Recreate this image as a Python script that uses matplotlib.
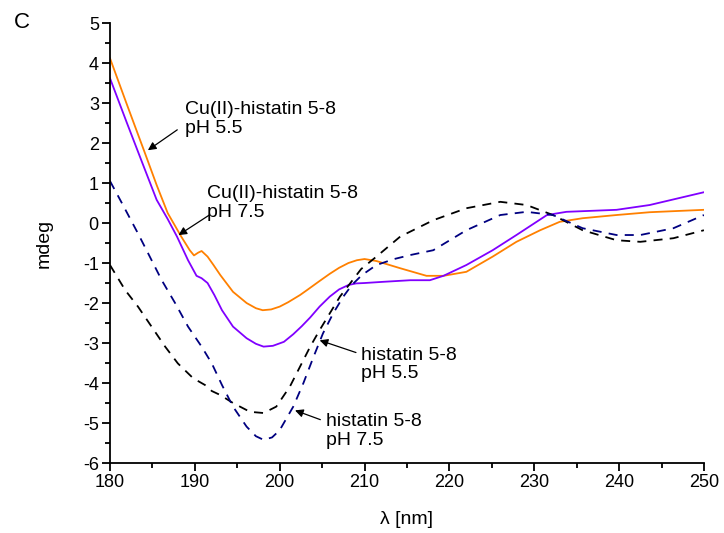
import matplotlib
matplotlib.use("Agg")
import matplotlib.pyplot as plt
from matplotlib.ticker import MultipleLocator

plt.rcParams['font.family'] = ['Liberation Sans', 'DejaVu Sans']
plt.rcParams['axes.unicode_minus'] = False

# Cu(II)-histatin 5-8 pH 5.5 (orange)
cu55_x = [180, 182, 184.1, 185.5, 186.8, 188.4, 189.4, 189.9, 190.4, 190.8, 191.5, 192.2, 193,
          194.5, 196.1, 197.2, 198, 199, 200, 201, 202.4, 203.2, 204.7, 205.9, 207, 208.1, 209.1,
          210, 211.4, 214.2, 217.3, 219.3, 222, 225.1, 227.9, 230.7, 233, 235.7, 239.7, 243.6, 250]
cu55_y = [4.12, 2.96, 1.76, 0.95, 0.25, -0.34, -0.68, -0.81, -0.74, -0.70, -0.84, -1.05, -1.3,
          -1.72, -2.0, -2.13, -2.18, -2.16, -2.09, -1.98, -1.8, -1.68, -1.45, -1.27, -1.12, -1.0,
          -0.93, -0.9, -0.95, -1.13, -1.32, -1.32, -1.22, -0.84, -0.47, -0.18, 0.03, 0.12, 0.2,
          0.27, 0.33]

# Cu(II)-histatin 5-8 pH 7.5 (violet)
cu75_x = [180, 182, 184, 185.5, 186.8, 187.9, 189.2, 190.2, 190.8, 191.5, 192.3, 193.2, 194.5,
          196.1, 197.2, 198.1, 199.2, 200.5, 201.6, 202.6, 203.6, 204.7, 205.9, 207, 208.1, 209,
          210, 212.2, 215.4, 217.7, 219.3, 222, 225.1, 227.9, 231.5, 233.8, 239.7, 243.6, 250]
cu75_y = [3.62, 2.5, 1.4, 0.58, 0.1, -0.34, -0.93, -1.32, -1.38, -1.5, -1.8, -2.18, -2.59,
          -2.88, -3.02, -3.09, -3.07, -2.97, -2.78, -2.58, -2.36, -2.09, -1.84, -1.66, -1.55,
          -1.51, -1.5, -1.47, -1.43, -1.43, -1.32, -1.05, -0.68, -0.3, 0.2, 0.28, 0.33, 0.45, 0.77]

# histatin 5-8 pH 5.5 (black dashed)
h55_x = [180, 181, 181.8, 183.3, 184.9, 186.5, 188.0, 189.8, 191.2, 192.0, 193, 194.5, 196.5,
         198.1, 199.6, 201.2, 202.4, 203.6, 204.7, 205.9, 207.1, 208.3, 209.6, 211.4, 214.2,
         218.1, 222, 226, 229.1, 232.2, 235.7, 239.7, 242.5, 246.4, 250]
h55_y = [-1.05, -1.4, -1.68, -2.09, -2.59, -3.09, -3.51, -3.88, -4.05, -4.2, -4.3, -4.5, -4.72,
         -4.75, -4.59, -4.09, -3.59, -3.09, -2.68, -2.26, -1.84, -1.51, -1.15, -0.84, -0.34,
         0.07, 0.37, 0.53, 0.45, 0.2, -0.18, -0.43, -0.47, -0.38, -0.18]

# histatin 5-8 pH 7.5 (navy dashed)
h75_x = [180, 181.4, 183.3, 184.5, 186.1, 187.7, 189.2, 190.8, 192, 193.2, 194.5, 196.1, 197.2,
         198.1, 199.1, 200, 201.6, 202.8, 204, 205.1, 206.3, 207.5, 208.5, 209.7, 211.4, 213.5,
         215.4, 218.1, 222, 226, 229.1, 232.2, 235.7, 239.7, 242.5, 246.4, 250]
h75_y = [1.05, 0.5, -0.26, -0.76, -1.43, -2.01, -2.59, -3.09, -3.51, -4.05, -4.59, -5.09, -5.33,
         -5.42, -5.36, -5.18, -4.59, -4.0, -3.34, -2.76, -2.26, -1.84, -1.55, -1.3, -1.05, -0.9,
         -0.8, -0.68, -0.18, 0.2, 0.28, 0.2, -0.13, -0.3, -0.3, -0.13, 0.2]

labels = ["Cu(II)-histatin 5-8\npH 5.5", "Cu(II)-histatin 5-8\npH 7.5",
          "histatin 5-8\npH 5.5", "histatin 5-8\npH 7.5"]

fig = plt.figure(figsize=(7.24, 5.33), dpi=100)
ax = fig.add_axes([0.1519, 0.1313, 0.8204, 0.8255])

lw = 1.3
ax.plot(cu55_x, cu55_y, color='#FF8000', lw=lw)
ax.plot(cu75_x, cu75_y, color='#8000FF', lw=lw)
ax.plot(h55_x, h55_y, color='black', lw=lw, dashes=(5, 4))
ax.plot(h75_x, h75_y, color='#000080', lw=lw, dashes=(5, 4))

ax.set_xlim(180, 250)
ax.set_ylim(-6, 5)
ax.xaxis.set_major_locator(MultipleLocator(10))
ax.xaxis.set_minor_locator(MultipleLocator(5))
ax.yaxis.set_major_locator(MultipleLocator(1))
ax.yaxis.set_minor_locator(MultipleLocator(0.5))
for s in ['top', 'right']:
    ax.spines[s].set_visible(False)
for s in ['left', 'bottom']:
    ax.spines[s].set_linewidth(1.3)
ax.tick_params(which='major', direction='out', length=6, width=1.3, labelsize=13, pad=2)
ax.tick_params(which='minor', direction='out', length=3.5, width=1.3)
ax.set_xlabel('λ [nm]', fontsize=14, labelpad=14)
ax.set_ylabel('mdeg', fontsize=14, labelpad=22)

fs = 14
arrowprops = dict(arrowstyle='-|>', color='black', lw=0.9, mutation_scale=12)
ax.annotate('', xy=(184.2, 1.78), xytext=(188.2, 2.37), arrowprops=arrowprops)
ax.text(188.8, 2.6, labels[0], fontsize=fs, va='center', ha='left', linespacing=1.1)
ax.annotate('', xy=(187.8, -0.34), xytext=(192.0, 0.24), arrowprops=arrowprops)
ax.text(191.4, 0.5, labels[1], fontsize=fs, va='center', ha='left', linespacing=1.1)
ax.annotate('', xy=(204.4, -2.91), xytext=(209.3, -3.26), arrowprops=arrowprops)
ax.text(209.6, -3.54, labels[2], fontsize=fs, va='center', ha='left', linespacing=1.1)
ax.annotate('', xy=(201.5, -4.66), xytext=(205.1, -4.94), arrowprops=arrowprops)
ax.text(205.5, -5.2, labels[3], fontsize=fs, va='center', ha='left', linespacing=1.1)

fig.text(22 / 724, 1 - 22 / 533, 'C', fontsize=16, ha='center', va='center')

fig.savefig('out.png', dpi=100)
